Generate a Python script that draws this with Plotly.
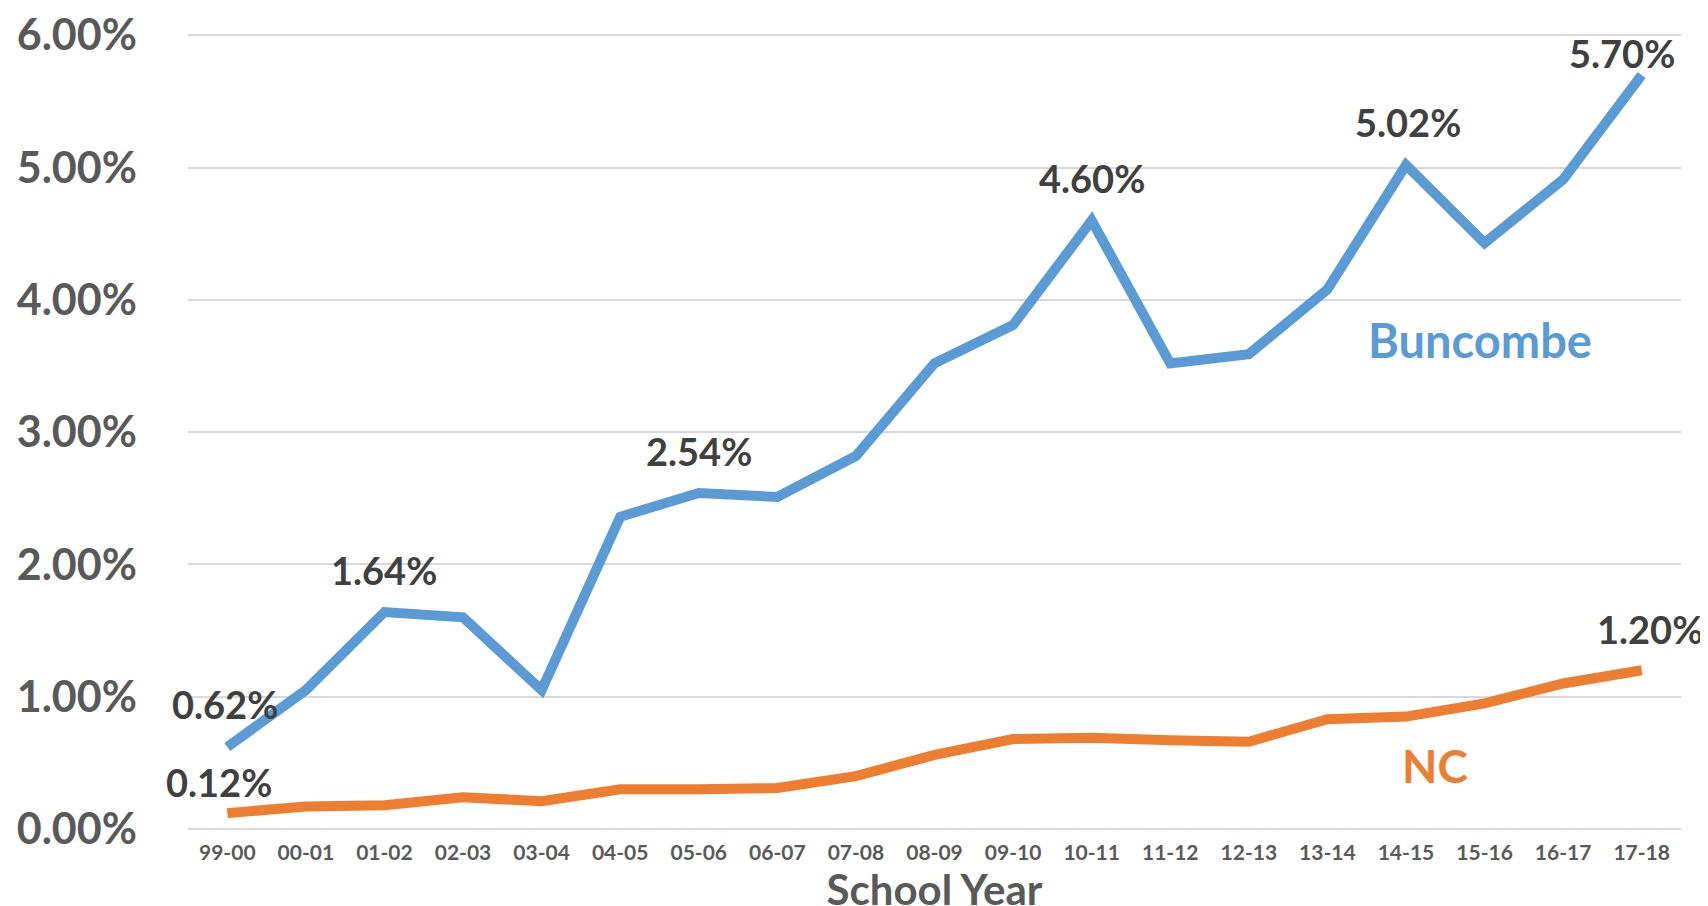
import plotly.graph_objects as go

years = ["99-00", "00-01", "01-02", "02-03", "03-04", "04-05", "05-06", "06-07",
         "07-08", "08-09", "09-10", "10-11", "11-12", "12-13", "13-14", "14-15",
         "15-16", "16-17", "17-18"]
buncombe = [0.62, 1.05, 1.64, 1.60, 1.05, 2.36, 2.54, 2.51, 2.82, 3.52, 3.81,
            4.60, 3.52, 3.59, 4.08, 5.02, 4.43, 4.91, 5.70]
nc = [0.12, 0.17, 0.18, 0.24, 0.21, 0.30, 0.30, 0.31, 0.40, 0.56, 0.68,
      0.69, 0.67, 0.66, 0.83, 0.85, 0.95, 1.10, 1.20]

y_ticks = [0, 1, 2, 3, 4, 5, 6]

# indices of labelled points
buncombe_labelled = [0, 2, 6, 11, 15, 18]
nc_labelled = [0, 18]

# label offsets (px) relative to their points: (xshift, yshift)
b_offsets = {0: (-2, 43), 2: (0, 42), 6: (0, 42), 11: (0, 43), 15: (2, 43), 18: (-20, 22)}
n_offsets = {0: (-8, 31), 18: (8, 41)}

BLUE = "#5B9BD5"
ORANGE = "#ED7D31"
FONT = "Lato"

fig = go.Figure()
fig.add_trace(go.Scatter(x=years, y=buncombe, mode="lines", name="Buncombe",
                         line=dict(color=BLUE, width=10)))
fig.add_trace(go.Scatter(x=years, y=nc, mode="lines", name="NC",
                         line=dict(color=ORANGE, width=10)))

annotations = []
for i in buncombe_labelled:
    xs, ys = b_offsets[i]
    annotations.append(dict(x=years[i], y=buncombe[i], text=f"<b>{buncombe[i]:.2f}%</b>",
                            showarrow=False, yshift=ys, xshift=xs,
                            font=dict(family=FONT, size=38, color="#404040")))
for i in nc_labelled:
    xs, ys = n_offsets[i]
    annotations.append(dict(x=years[i], y=nc[i], text=f"<b>{nc[i]:.2f}%</b>",
                            showarrow=False, yshift=ys, xshift=xs,
                            font=dict(family=FONT, size=38, color="#404040")))

annotations.append(dict(x=years[16], y=3.70, text="<b>Buncombe</b>", showarrow=False,
                        xshift=-5,
                        font=dict(family=FONT, size=47, color=BLUE)))
annotations.append(dict(x=years[15], y=0.48, text="<b>NC</b>", showarrow=False,
                        xshift=29,
                        font=dict(family=FONT, size=46, color=ORANGE)))

fig.update_layout(
    width=1708, height=906,
    margin=dict(l=180, r=35, t=26, b=85),
    plot_bgcolor="white", paper_bgcolor="white",
    showlegend=False,
    annotations=annotations,
    font=dict(family=FONT),
)
fig.update_xaxes(
    type="category", range=[-0.5, len(years) - 0.5],
    showgrid=False, showline=False, ticks="", automargin=False,
    tickfont=dict(family=FONT, size=21, color="#595959", weight="bold"),
    ticklabelstandoff=9,
    title=dict(text="<b>School Year</b>", standoff=0,
               font=dict(family=FONT, size=42, color="#595959")),
)
fig.update_yaxes(
    range=[0, 6.01], tickvals=y_ticks, automargin=False,
    ticktext=[f"{v:.2f}%" for v in y_ticks],
    showgrid=True, gridcolor="#D9D9D9", gridwidth=2,
    zeroline=True, zerolinecolor="#D9D9D9", zerolinewidth=2,
    showline=False, ticks="",
    tickfont=dict(family=FONT, size=43, color="#595959", weight="bold"),
    ticklabelstandoff=50,
)

fig.write_html("out.html")
